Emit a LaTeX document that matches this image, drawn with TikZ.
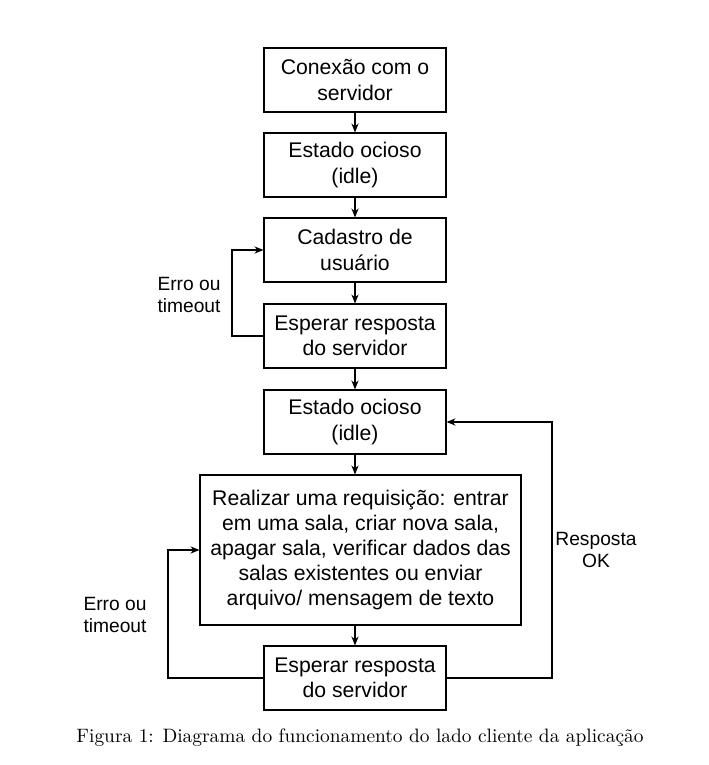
\documentclass[tikz,border=0pt]{standalone}
\usepackage{fontspec}
\setmainfont{Latin Modern Roman}
\newfontfamily\boxfont{Liberation Sans}
\usetikzlibrary{arrows.meta}

\tikzset{
    estado/.style={draw, rectangle, line width=0.55pt, align=center, font=\boxfont\fontsize{10.6}{12.6}\selectfont, minimum width=91pt, minimum height=32pt, inner sep=1pt},
    rotulo/.style={align=center, font=\boxfont\fontsize{9.6}{11.4}\selectfont},
    seta/.style={line width=0.55pt, -{Stealth[length=4.5pt, width=3.6pt]}},
    laco/.style={line width=0.55pt}
}

\begin{document}
\begin{tikzpicture}[x=0.5pt, y=-0.5pt]
        \useasboundingbox (0,0) rectangle (708,765);
        \node[estado] (conexao) at (355,80) {Conexão com o\\servidor};
        \node[estado] (ocioso1) at (355,165) {Estado ocioso\\(idle)};
        \node[estado] (cadastro) at (355,250) {Cadastro de\\usuário};
        \node[estado] (espera1) at (355,336) {Esperar resposta\\do servidor};
        \node[estado] (ocioso2) at (355,422) {Estado ocioso\\(idle)};
        \node[estado, minimum width=160.5pt, minimum height=75pt] (requisicao) at (360.5,550) {Realizar uma requisição: entrar\\em uma sala, criar nova sala,\\apagar sala, verificar dados das\\salas existentes ou enviar\\arquivo/ mensagem de texto};
        \node[estado] (espera2) at (355,678) {Esperar resposta\\do servidor};
        % setas verticais
        \foreach \a/\b in {conexao/ocioso1, ocioso1/cadastro, cadastro/espera1, espera1/ocioso2, ocioso2/requisicao, requisicao/espera2}{
        \draw[seta] (\a.south -| 355,0) -- (\b.north -| 355,0);
        }
        % lacos de retorno
        \draw[laco] (espera1.west) -- (232,336) |- (250,250);
        \draw[seta] (250,250) -- (cadastro.west);
        \draw[laco] (espera2.west) -- (168,678) |- (185,550);
        \draw[seta] (185,550) -- (requisicao.west);
        \draw[laco] (espera2.east) -- (552,678) |- (465,422);
        \draw[seta] (465,422) -- (ocioso2.east);
        \node[rotulo] (erro1) at (189,295) {Erro ou\\timeout};
        \node[rotulo] (erro2) at (115,615) {Erro ou\\timeout};
        \node[rotulo] (ok) at (596,550) {Resposta\\OK};
        \node[font=\fontsize{9.7}{11.6}\selectfont] (legenda) at (360,738) {Figura 1: Diagrama do funcionamento do lado cliente da aplicação};
    \end{tikzpicture}
\end{document}
